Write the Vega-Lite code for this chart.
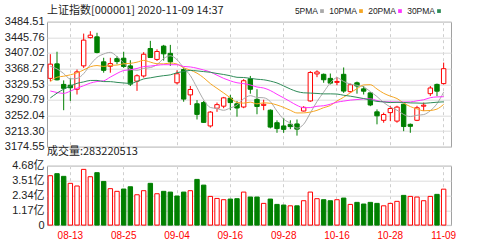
{
  "$schema": "https://vega.github.io/schema/vega-lite/v6.json",
  "background": "white",
  "padding": {"left": 3, "top": 3.7, "right": 4, "bottom": 1},
  "autosize": {"type": "pad"},
  "spacing": -8,
  "config": {
    "view": {"stroke": "#a0a0a0", "strokeWidth": 1},
    "axis": {"labelFont": "Liberation Sans, Noto Sans CJK SC", "labelFontSize": 11, "labelColor": "#222", "ticks": false, "domain": false, "gridColor": "#dcdcdc", "gridWidth": 1, "title": null, "labelOverlap": false},
    "axisY": {"labelOverlap": false},
    "axisQuantitative": {"labelOverlap": false},
    "title": {"anchor": "start", "frame": "group", "font": "Noto Sans CJK SC", "fontSize": 11, "fontWeight": "normal", "color": "#222"}
  },
  "datasets": {
    "k": [
      {"d":"08-10","o":3344,"h":3404,"l":3337,"c":3379.25,"v":3.89,"chg":"up","m5":3373.8,"m10":3335.6,"m20":3312.6,"m30":3295.5},
      {"d":"08-11","o":3380,"h":3410,"l":3339,"c":3340.29,"v":4.05,"chg":"down","m5":3367.5,"m10":3346.9,"m20":3308.9,"m30":3307.3},
      {"d":"08-12","o":3329,"h":3339,"l":3265,"c":3319.27,"v":3.84,"chg":"down","m5":3355.9,"m10":3349.3,"m20":3306.8,"m30":3317.1},
      {"d":"08-13","o":3327,"h":3344,"l":3288,"c":3320.73,"v":3.29,"chg":"up","m5":3342.7,"m10":3352.7,"m20":3312.3,"m30":3324.8},
      {"d":"08-14","o":3317,"h":3366,"l":3304,"c":3360.10,"v":3.08,"chg":"up","m5":3343.9,"m10":3357.7,"m20":3319.6,"m30":3331.7},
      {"d":"08-17","o":3375,"h":3455,"l":3370,"c":3438.80,"v":4.39,"chg":"up","m5":3355.8,"m10":3364.8,"m20":3325.8,"m30":3335.2},
      {"d":"08-18","o":3445,"h":3461,"l":3443,"c":3451.09,"v":3.81,"chg":"up","m5":3378.0,"m10":3372.8,"m20":3332.3,"m30":3338.8},
      {"d":"08-19","o":3447,"h":3457,"l":3406,"c":3408.13,"v":4.13,"chg":"down","m5":3395.8,"m10":3375.8,"m20":3336.1,"m30":3338.9},
      {"d":"08-20","o":3385,"h":3395,"l":3358,"c":3363.90,"v":3.44,"chg":"down","m5":3404.4,"m10":3373.6,"m20":3338.0,"m30":3336.0},
      {"d":"08-21","o":3374,"h":3395,"l":3358,"c":3380.68,"v":2.87,"chg":"up","m5":3408.5,"m10":3376.2,"m20":3347.2,"m30":3335.9},
      {"d":"08-24","o":3393,"h":3399,"l":3379,"c":3385.64,"v":2.66,"chg":"up","m5":3397.9,"m10":3376.9,"m20":3356.2,"m30":3334.0},
      {"d":"08-25","o":3394,"h":3410,"l":3370,"c":3373.58,"v":2.84,"chg":"down","m5":3382.4,"m10":3380.2,"m20":3363.5,"m30":3332.6},
      {"d":"08-26","o":3375,"h":3389,"l":3325,"c":3329.74,"v":3.02,"chg":"down","m5":3366.7,"m10":3381.2,"m20":3365.3,"m30":3331.6},
      {"d":"08-27","o":3337,"h":3354,"l":3313,"c":3350.44,"v":2.39,"chg":"up","m5":3364.0,"m10":3384.2,"m20":3368.5,"m30":3336.3},
      {"d":"08-28","o":3350,"h":3409,"l":3346,"c":3403.81,"v":2.71,"chg":"up","m5":3368.6,"m10":3388.6,"m20":3373.2,"m30":3342.6},
      {"d":"08-31","o":3418,"h":3437,"l":3395,"c":3395.68,"v":3.29,"chg":"down","m5":3370.7,"m10":3384.3,"m20":3374.5,"m30":3345.3},
      {"d":"09-01","o":3391,"h":3416,"l":3387,"c":3410.61,"v":2.47,"chg":"up","m5":3378.1,"m10":3380.2,"m20":3376.5,"m30":3348.3},
      {"d":"09-02","o":3424,"h":3427,"l":3388,"c":3404.80,"v":2.66,"chg":"down","m5":3393.1,"m10":3379.9,"m20":3377.9,"m30":3350.7},
      {"d":"09-03","o":3406,"h":3427,"l":3375,"c":3384.98,"v":2.60,"chg":"down","m5":3400.0,"m10":3382.0,"m20":3377.8,"m30":3352.7},
      {"d":"09-04","o":3333,"h":3364,"l":3329,"c":3355.37,"v":2.29,"chg":"down","m5":3390.3,"m10":3379.5,"m20":3377.8,"m30":3358.0},
      {"d":"09-07","o":3366,"h":3371,"l":3286,"c":3292.59,"v":2.60,"chg":"down","m5":3369.7,"m10":3370.2,"m20":3373.5,"m30":3360.9},
      {"d":"09-08","o":3303,"h":3325,"l":3278,"c":3316.42,"v":2.71,"chg":"up","m5":3350.8,"m10":3364.4,"m20":3372.3,"m30":3363.8},
      {"d":"09-09","o":3281,"h":3290,"l":3242,"c":3254.63,"v":3.60,"chg":"down","m5":3320.8,"m10":3356.9,"m20":3369.1,"m30":3362.5},
      {"d":"09-10","o":3284,"h":3288,"l":3234,"c":3234.82,"v":3.15,"chg":"down","m5":3290.8,"m10":3345.4,"m20":3364.8,"m30":3360.8},
      {"d":"09-11","o":3226,"h":3263,"l":3222,"c":3260.35,"v":2.26,"chg":"up","m5":3271.8,"m10":3331.0,"m20":3359.8,"m30":3359.1},
      {"d":"09-14","o":3270,"h":3284,"l":3261,"c":3278.81,"v":2.10,"chg":"up","m5":3269.0,"m10":3319.3,"m20":3351.8,"m30":3356.1},
      {"d":"09-15","o":3275,"h":3298,"l":3270,"c":3295.68,"v":2.00,"chg":"up","m5":3264.9,"m10":3307.8,"m20":3344.0,"m30":3353.6},
      {"d":"09-16","o":3295,"h":3303,"l":3265,"c":3283.92,"v":2.05,"chg":"down","m5":3270.7,"m10":3295.8,"m20":3337.8,"m30":3350.5},
      {"d":"09-17","o":3281,"h":3288,"l":3249,"c":3270.44,"v":2.08,"chg":"down","m5":3277.8,"m10":3284.3,"m20":3333.1,"m30":3346.6},
      {"d":"09-18","o":3273,"h":3342,"l":3270,"c":3338.09,"v":2.60,"chg":"up","m5":3293.4,"m10":3282.6,"m20":3331.0,"m30":3346.1},
      {"d":"09-21","o":3343,"h":3350,"l":3306,"c":3316.94,"v":2.21,"chg":"down","m5":3301.0,"m10":3285.0,"m20":3327.6,"m30":3344.0},
      {"d":"09-22","o":3292,"h":3317,"l":3255,"c":3274.30,"v":2.21,"chg":"down","m5":3296.7,"m10":3280.8,"m20":3322.6,"m30":3341.8},
      {"d":"09-23","o":3277,"h":3291,"l":3265,"c":3279.71,"v":1.71,"chg":"up","m5":3295.9,"m10":3283.3,"m20":3320.1,"m30":3340.5},
      {"d":"09-24","o":3265,"h":3267,"l":3220,"c":3223.18,"v":2.05,"chg":"down","m5":3286.4,"m10":3282.1,"m20":3313.8,"m30":3337.2},
      {"d":"09-25","o":3234,"h":3240,"l":3209,"c":3219.42,"v":1.63,"chg":"down","m5":3262.7,"m10":3278.0,"m20":3304.5,"m30":3332.6},
      {"d":"09-28","o":3226,"h":3246,"l":3209,"c":3217.53,"v":1.58,"chg":"down","m5":3242.8,"m10":3271.9,"m20":3295.6,"m30":3325.2},
      {"d":"09-29","o":3230,"h":3240,"l":3218,"c":3224.36,"v":1.52,"chg":"up","m5":3232.8,"m10":3264.8,"m20":3286.3,"m30":3317.6},
      {"d":"09-30","o":3231,"h":3242,"l":3202,"c":3218.05,"v":1.52,"chg":"down","m5":3220.5,"m10":3258.2,"m20":3277.0,"m30":3311.3},
      {"d":"10-09","o":3263,"h":3275,"l":3262,"c":3272.08,"v":1.92,"chg":"up","m5":3230.3,"m10":3258.4,"m20":3271.3,"m30":3308.2},
      {"d":"10-12","o":3288,"h":3362,"l":3286,"c":3358.47,"v":2.60,"chg":"up","m5":3258.1,"m10":3260.4,"m20":3271.5,"m30":3307.5},
      {"d":"10-13","o":3355,"h":3364,"l":3347,"c":3359.75,"v":2.08,"chg":"up","m5":3286.5,"m10":3264.7,"m20":3274.8,"m30":3306.6},
      {"d":"10-14","o":3354,"h":3356,"l":3333,"c":3340.53,"v":2.00,"chg":"down","m5":3309.8,"m10":3271.3,"m20":3276.1,"m30":3305.5},
      {"d":"10-15","o":3344,"h":3356,"l":3329,"c":3332.18,"v":1.92,"chg":"down","m5":3332.6,"m10":3276.6,"m20":3279.9,"m30":3305.6},
      {"d":"10-16","o":3334,"h":3347,"l":3327,"c":3336.36,"v":2.00,"chg":"up","m5":3345.5,"m10":3287.9,"m20":3285.0,"m30":3305.1},
      {"d":"10-19","o":3354,"h":3371,"l":3308,"c":3312.50,"v":2.13,"chg":"down","m5":3336.3,"m10":3297.2,"m20":3287.6,"m30":3302.1},
      {"d":"10-20","o":3311,"h":3331,"l":3308,"c":3328.10,"v":1.63,"chg":"up","m5":3329.9,"m10":3308.2,"m20":3290.1,"m30":3299.8},
      {"d":"10-21","o":3333,"h":3336,"l":3306,"c":3325.03,"v":1.79,"chg":"down","m5":3326.8,"m10":3318.3,"m20":3291.5,"m30":3297.0},
      {"d":"10-22","o":3318,"h":3325,"l":3304,"c":3312.16,"v":1.66,"chg":"down","m5":3322.8,"m10":3327.7,"m20":3293.0,"m30":3293.9},
      {"d":"10-23","o":3308,"h":3309,"l":3275,"c":3278.00,"v":1.79,"chg":"down","m5":3311.2,"m10":3328.3,"m20":3293.3,"m30":3290.3},
      {"d":"10-26","o":3261,"h":3267,"l":3230,"c":3251.12,"v":1.71,"chg":"down","m5":3298.9,"m10":3317.6,"m20":3289.0,"m30":3286.9},
      {"d":"10-27","o":3240,"h":3259,"l":3234,"c":3254.32,"v":1.52,"chg":"up","m5":3284.1,"m10":3307.0,"m20":3285.9,"m30":3285.6},
      {"d":"10-28","o":3259,"h":3276,"l":3238,"c":3269.24,"v":1.71,"chg":"up","m5":3273.0,"m10":3299.9,"m20":3285.6,"m30":3284.0},
      {"d":"10-29","o":3238,"h":3276,"l":3234,"c":3272.74,"v":1.87,"chg":"up","m5":3265.1,"m10":3294.0,"m20":3285.3,"m30":3284.6},
      {"d":"10-30","o":3280,"h":3281,"l":3213,"c":3224.53,"v":2.34,"chg":"down","m5":3254.4,"m10":3282.8,"m20":3285.3,"m30":3284.3},
      {"d":"11-02","o":3230,"h":3232,"l":3209,"c":3225.12,"v":2.26,"chg":"up","m5":3249.2,"m10":3274.0,"m20":3285.6,"m30":3283.1},
      {"d":"11-03","o":3240,"h":3276,"l":3238,"c":3271.07,"v":2.21,"chg":"up","m5":3252.5,"m10":3268.3,"m20":3288.3,"m30":3282.8},
      {"d":"11-04","o":3275,"h":3284,"l":3263,"c":3277.44,"v":1.92,"chg":"up","m5":3254.2,"m10":3263.6,"m20":3290.9,"m30":3282.2},
      {"d":"11-05","o":3306,"h":3325,"l":3300,"c":3320.13,"v":2.26,"chg":"up","m5":3263.7,"m10":3264.4,"m20":3296.0,"m30":3283.4},
      {"d":"11-06","o":3329,"h":3331,"l":3300,"c":3312.16,"v":2.42,"chg":"down","m5":3281.2,"m10":3267.8,"m20":3298.0,"m30":3284.8},
      {"d":"11-09","o":3331,"h":3383,"l":3329,"c":3368.00,"v":2.83,"chg":"up","m5":3309.8,"m10":3279.5,"m20":3298.5,"m30":3285.8}
    ]
  },
  "vconcat": [
    {
      "width": 404,
      "height": 125,
      "title": {"text": "上证指数[000001] 2020-11-09 14:37", "offset": 0},
      "data": {"name": "k"},
      "encoding": {
        "x": {"field": "d", "type": "ordinal", "sort": null,
              "scale": {"paddingInner": 0, "paddingOuter": 0.3, "align": 0},
              "axis": {"values": ["08-13","08-25","09-04","09-16","09-28","10-16","10-28","11-09"], "labels": false, "grid": true, "gridDash": [3,3], "gridColor": "#cfcfcf"}}
      },
      "layer": [
        {
          "mark": {"type": "rule", "strokeWidth": 1},
          "encoding": {
            "y": {"field": "l", "type": "quantitative",
                  "scale": {"domain": [3174.55, 3484.51], "nice": false, "zero": false},
                  "axis": {"values": [3174.55, 3213.30, 3252.04, 3290.79, 3329.53, 3368.27, 3407.02, 3445.76, 3484.51], "format": ".2f", "grid": true, "labelPadding": 3, "labelOverlap": false}},
            "y2": {"field": "h"},
            "color": {"condition": {"test": "datum.c >= datum.o", "value": "#ff0000"}, "value": "#008000"}
          }
        },
        {
          "mark": {"type": "bar", "width": 4.4, "strokeWidth": 1},
          "encoding": {
            "y": {"field": "o", "type": "quantitative", "scale": {"domain": [3174.55, 3484.51], "nice": false, "zero": false},
                  "axis": {"values": [3174.55, 3213.30, 3252.04, 3290.79, 3329.53, 3368.27, 3407.02, 3445.76, 3484.51], "format": ".2f", "grid": true, "labelPadding": 3, "labelOverlap": false}},
            "y2": {"field": "c"},
            "fill": {"condition": {"test": "datum.c >= datum.o", "value": "#ffffff"}, "value": "#008000"},
            "stroke": {"condition": {"test": "datum.c >= datum.o", "value": "#ff0000"}, "value": "#008000"}
          }
        },
        {
          "transform": [{"fold": ["m5", "m10", "m20", "m30"], "as": ["ma", "val"]}],
          "mark": {"type": "line", "strokeWidth": 1, "interpolate": "monotone"},
          "encoding": {
            "y": {"field": "val", "type": "quantitative", "scale": {"domain": [3174.55, 3484.51], "nice": false, "zero": false},
                  "axis": {"values": [3174.55, 3213.30, 3252.04, 3290.79, 3329.53, 3368.27, 3407.02, 3445.76, 3484.51], "format": ".2f", "grid": true, "labelPadding": 3, "labelOverlap": false}},
            "color": {"field": "ma", "type": "nominal",
                      "scale": {"domain": ["m5", "m10", "m20", "m30"], "range": ["#a9a9a9", "#f5a623", "#ff33ff", "#2e8b57"]},
                      "legend": {"orient": "none", "legendX": 246, "legendY": -15, "direction": "horizontal", "title": null,
                                 "labelExpr": "{'m5':'5PMA','m10':'10PMA','m20':'20PMA','m30':'30PMA'}[datum.value]",
                                 "labelFont": "Liberation Sans", "labelFontSize": 8.5, "labelColor": "#222",
                                 "symbolType": "square", "symbolSize": 14, "columnPadding": 5,
                                 "encode": {
                                   "symbols": {"update": {"x": {"value": 29}, "fill": {"scale": "color", "field": "value"}, "strokeWidth": {"value": 0}}},
                                   "labels": {"update": {"x": {"value": 25}, "align": {"value": "right"}}}
                                 }}}
          }
        }
      ]
    },
    {
      "width": 404,
      "height": 59.4,
      "title": {"text": "成交量:283220513", "offset": 3},
      "data": {"name": "k"},
      "mark": {"type": "bar", "width": 4.4, "strokeWidth": 1},
      "encoding": {
        "x": {"field": "d", "type": "ordinal", "sort": null,
              "scale": {"paddingInner": 0, "paddingOuter": 0.3, "align": 0},
              "axis": {"values": ["08-13","08-25","09-04","09-16","09-28","10-16","10-28","11-09"], "labelAngle": 0, "labelColor": "#ff0000", "labelFontSize": 10, "labelPadding": 5, "grid": true, "gridDash": [3,3], "gridColor": "#cfcfcf"}},
        "y": {"field": "v", "type": "quantitative",
              "scale": {"domain": [0, 4.68], "nice": false},
              "axis": {"values": [0, 1.17, 2.34, 3.51, 4.68], "labelExpr": "datum.value == 0 ? '0' : format(datum.value, '.2f') + '亿'", "grid": true, "labelPadding": 3, "labelOverlap": false}},
        "fill": {"condition": {"test": "datum.chg == 'up'", "value": "#ffffff"}, "value": "#008000"},
        "stroke": {"condition": {"test": "datum.chg == 'up'", "value": "#ff0000"}, "value": "#008000"}
      }
    }
  ]
}
